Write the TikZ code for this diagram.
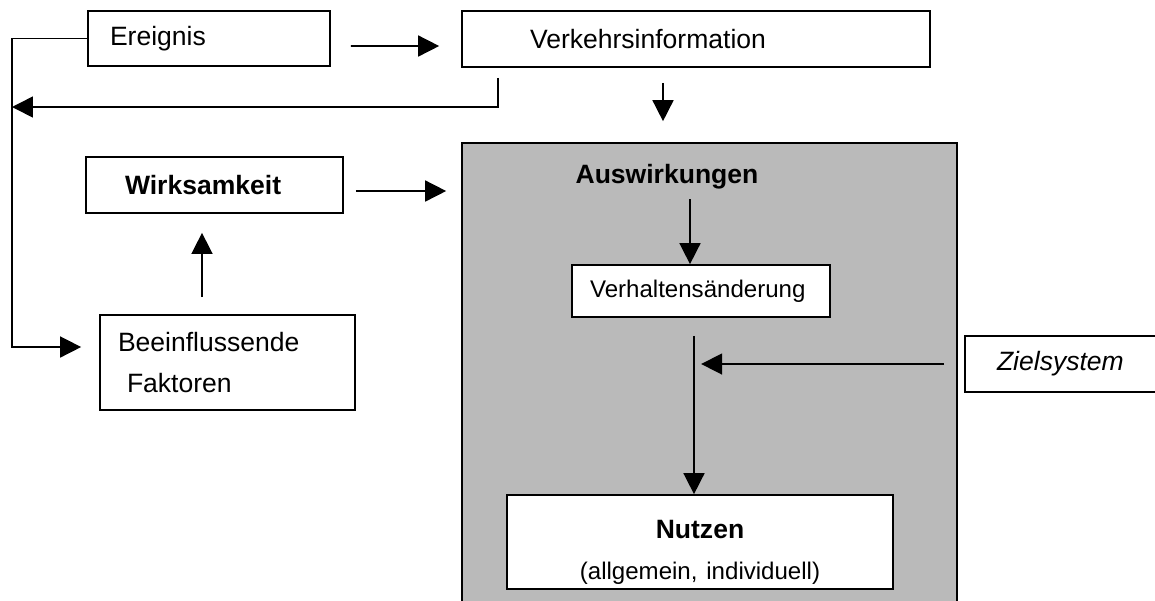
\documentclass[tikz,border=0pt]{standalone}
\usepackage{fontspec}
\setmainfont{Liberation Sans}
\usetikzlibrary{arrows.meta,positioning,calc}

\tikzset{
  flowbox/.style={draw,line width=1pt,fill=white,align=left,inner ysep=0pt,
    font=\fontsize{15.1}{22.8}\selectfont},
  smalltext/.style={font=\fontsize{13.7}{18.2}\selectfont},
  flowarrow/.style={line width=0.9pt,-{Triangle[length=0.42cm,width=0.42cm]}}
}

\begin{document}
\begin{tikzpicture}[x=0.02cm,y=-0.02cm]
  \useasboundingbox (0,0) rectangle (1155,600);

  % shaded area
  \node[draw,line width=1pt,fill=black!27,minimum width=9.9cm,minimum height=9.32cm,
    inner sep=0pt] (ausw) at (709.5,376) {};
  \node[anchor=base,font=\fontsize{15.1}{18}\selectfont\bfseries] (auswlabel) at (667,183) {Auswirkungen};

  % boxes
  \node[flowbox,minimum width=4.84cm,minimum height=1.1cm,text width=3.96cm,inner xsep=0.44cm]
    (ereignis) at (209,38.5) {Ereignis};
  \node[flowbox,minimum width=9.36cm,minimum height=1.12cm,text width=6.64cm,inner xsep=1.36cm]
    (verkehr) at (696,39) {Verkehrsinformation};
  \node[flowbox,minimum width=5.14cm,minimum height=1.12cm,text width=3.58cm,inner xsep=0.78cm]
    (wirk) at (214.5,185) {\textbf{Wirksamkeit}};
  \node[flowbox,minimum width=5.1cm,minimum height=1.9cm,text width=4.38cm,inner xsep=0.36cm]
    (beein) at (227.5,362.5) {Beeinflussende\\\hspace*{0.18cm}Faktoren};
  \node[flowbox,smalltext,minimum width=5.16cm,minimum height=1.04cm,text width=4.44cm,inner xsep=0.36cm]
    (verh) at (701,291) {Verhaltensänderung};
  \node[flowbox,align=center,minimum width=7.72cm,minimum height=1.88cm,text width=7.2cm,inner xsep=0.26cm]
    (nutzen) at (700,542) {\rule{0pt}{0.78cm}\textbf{Nutzen}\\{\fontsize{13.7}{18.2}\selectfont (allgemein, individuell)}};
  \node[flowbox,minimum width=4.3cm,minimum height=1.12cm,text width=3.02cm,inner xsep=0.64cm]
    (ziel) at (1072.5,364) {\textit{Zielsystem}};

  \coordinate (rail) at (12,0);
  \coordinate (backtip) at (12,107);

  % connectors
  \draw[flowarrow] ($(ereignis.east)+(20,7.5)$) -- ($(verkehr.west)+(-22,7)$);
  \draw[flowarrow] (ereignis.west) -- (rail |- ereignis.west) |- ($(beein.west)+(-18,-15.5)$);
  \draw[flowarrow] ($(verkehr.south west)+(37,10)$) |- (backtip);
  \draw[flowarrow] ($(verkehr.south)+(-33,15)$) -- ($(ausw.north)+(-46.5,-21)$);
  \draw[flowarrow] ($(wirk.east)+(12,6)$) -- ($(wirk.east -| ausw.west)+(-15,6)$);
  \draw[flowarrow] ($(beein.north)+(-25.5,-17)$) -- ($(wirk.south)+(-12.5,19)$);
  \draw[flowarrow] ($(verh.north)+(-11,-65)$) -- ($(verh.north)+(-11,0)$);
  \draw[flowarrow] ($(verh.south)+(-7,18)$) -- ($(nutzen.north)+(-6,0)$);
  \draw[flowarrow] ($(ziel.west)+(-20,0)$) -- ($(ziel.west)+(-263,0)$);
\end{tikzpicture}
\end{document}
